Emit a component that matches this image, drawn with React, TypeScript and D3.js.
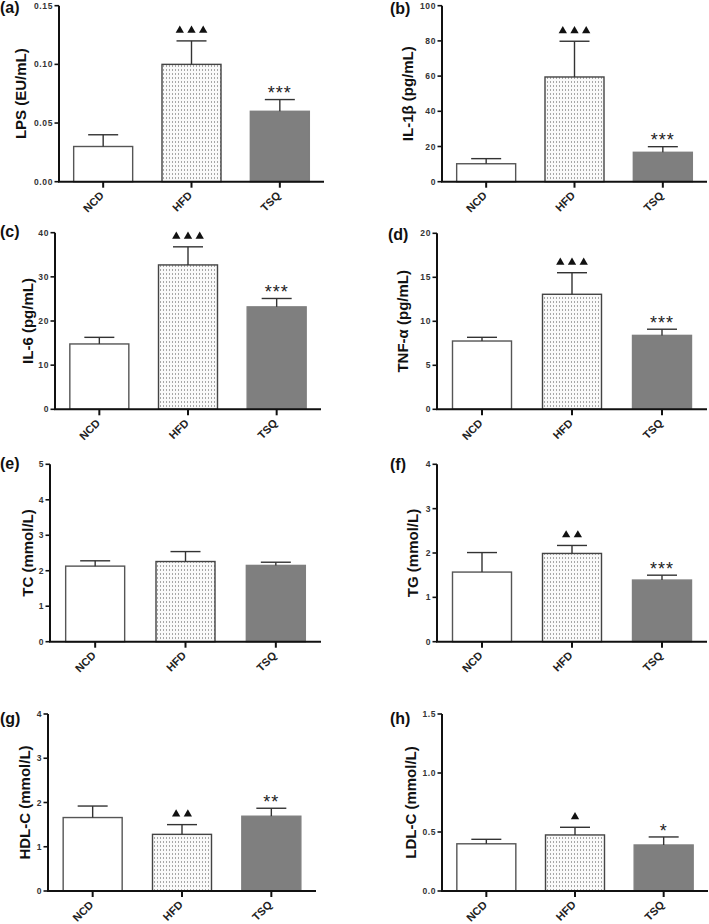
import * as d3 from 'd3'

// groups on the x axis
const groups = ['NCD', 'HFD', 'TSQ']

// mean and upper error (SEM)
const lpsMean = [0.03, 0.1, 0.06]
const lpsSem = [0.01, 0.02, 0.01]
const il1bMean = [10.2, 59.5, 16.7]
const il1bSem = [2.9, 20.3, 3.2]
const il6Mean = [14.8, 32.7, 23.2]
const il6Sem = [1.5, 4.1, 1.9]
const tnfMean = [7.76, 13.07, 8.4]
const tnfSem = [0.42, 2.45, 0.7]
const tcMean = [2.13, 2.26, 2.15]
const tcSem = [0.15, 0.28, 0.09]
const tgMean = [1.57, 1.99, 1.39]
const tgSem = [0.44, 0.18, 0.11]
const hdlMean = [1.66, 1.28, 1.69]
const hdlSem = [0.26, 0.22, 0.18]
const ldlMean = [0.4, 0.475, 0.39]
const ldlSem = [0.038, 0.065, 0.068]

// y tick labels
const lpsTicks = [0, 0.05, 0.1, 0.15]
const il1bTicks = [0, 20, 40, 60, 80, 100]
const il6Ticks = [0, 10, 20, 30, 40]
const tnfTicks = [0, 5, 10, 15, 20]
const tcTicks = [0, 1, 2, 3, 4, 5]
const tgTicks = [0, 1, 2, 3, 4]
const hdlTicks = [0, 1, 2, 3, 4]
const ldlTicks = [0, 0.5, 1.0, 1.5]

// significance marks (▲ vs NCD, * vs HFD)
const lpsSig = ['', '▲▲▲', '***']
const il1bSig = ['', '▲▲▲', '***']
const il6Sig = ['', '▲▲▲', '***']
const tnfSig = ['', '▲▲▲', '***']
const tcSig = ['', '', '']
const tgSig = ['', '▲▲', '***']
const hdlSig = ['', '▲▲', '**']
const ldlSig = ['', '▲', '*']

type PanelSpec = {
  label: string
  title: string
  mean: number[]
  sem: number[]
  ticks: number[]
  fmt: string
  sig: string[]
  x0: number
  x1: number
  yTop: number
  yBot: number
  titleX: number
  labelX: number
  labelY: number
}

const panels: PanelSpec[] = [
  { label: '(a)', title: 'LPS (EU/mL)', mean: lpsMean, sem: lpsSem, ticks: lpsTicks, fmt: '.2f', sig: lpsSig, x0: 59, x1: 324, yTop: 5.7, yBot: 181.7, titleX: 21, labelX: 0, labelY: 12.5 },
  { label: '(b)', title: 'IL-1β (pg/mL)', mean: il1bMean, sem: il1bSem, ticks: il1bTicks, fmt: 'd', sig: il1bSig, x0: 442, x1: 707, yTop: 5.7, yBot: 181.7, titleX: 407.5, labelX: 390, labelY: 13.5 },
  { label: '(c)', title: 'IL-6 (pg/mL)', mean: il6Mean, sem: il6Sem, ticks: il6Ticks, fmt: 'd', sig: il6Sig, x0: 55, x1: 321, yTop: 232.7, yBot: 409.3, titleX: 27.5, labelX: 0, labelY: 237 },
  { label: '(d)', title: 'TNF-α (pg/mL)', mean: tnfMean, sem: tnfSem, ticks: tnfTicks, fmt: 'd', sig: tnfSig, x0: 437, x1: 707, yTop: 233.3, yBot: 409.3, titleX: 402.5, labelX: 388, labelY: 240 },
  { label: '(e)', title: 'TC (mmol/L)', mean: tcMean, sem: tcSem, ticks: tcTicks, fmt: 'd', sig: tcSig, x0: 50, x1: 321, yTop: 464.3, yBot: 641.7, titleX: 27.5, labelX: 0, labelY: 468.7 },
  { label: '(f)', title: 'TG (mmol/L)', mean: tgMean, sem: tgSem, ticks: tgTicks, fmt: 'd', sig: tgSig, x0: 437, x1: 707, yTop: 464.3, yBot: 641.7, titleX: 412.5, labelX: 390, labelY: 470 },
  { label: '(g)', title: 'HDL-C (mmol/L)', mean: hdlMean, sem: hdlSem, ticks: hdlTicks, fmt: 'd', sig: hdlSig, x0: 48, x1: 316, yTop: 714, yBot: 891, titleX: 24, labelX: 0, labelY: 724 },
  { label: '(h)', title: 'LDL-C (mmol/L)', mean: ldlMean, sem: ldlSem, ticks: ldlTicks, fmt: '.1f', sig: ldlSig, x0: 442, x1: 708, yTop: 714, yBot: 891, titleX: 410.7, labelX: 390, labelY: 723.7 },
]

const FONT = 'Arial, "Liberation Sans", Helvetica, sans-serif'
const BAR_W = 59
const CAP_W = 30
const fills = ['#ffffff', 'url(#dots)', '#7f7f7f']
const strokes = ['#555', '#444', '#7f7f7f']
const tri = d3.symbol().type(d3.symbolTriangle).size(30)()

function Panel({ p }: { p: PanelSpec }) {
  const x = d3.scalePoint<string>().domain(groups).range([p.x0, p.x1]).padding(0.5)
  const y = d3
    .scaleLinear()
    .domain([p.ticks[0], p.ticks[p.ticks.length - 1]])
    .range([p.yBot, p.yTop])
  const fmt = d3.format(p.fmt)
  const midY = (p.yTop + p.yBot) / 2

  return (
    <g>
      <text x={p.labelX} y={p.labelY} fontFamily={FONT} fontWeight="bold" fontSize={16} fill="#111">
        {p.label}
      </text>
      <text
        x={p.titleX}
        y={midY}
        transform={`rotate(-90 ${p.titleX} ${midY})`}
        textAnchor="middle"
        dominantBaseline="central"
        fontFamily={FONT}
        fontWeight="bold"
        fontSize={15}
        fill="#111"
      >
        {p.title}
      </text>

      {/* bars + error bars */}
      {groups.map((g, i) => {
        const cx = x(g) as number
        const top = y(p.mean[i])
        const cap = y(p.mean[i] + p.sem[i])
        const sig = p.sig[i]
        const nTri = sig.startsWith('▲') ? sig.length : 0
        return (
          <g key={g}>
            <rect
              x={cx - BAR_W / 2}
              y={top}
              width={BAR_W}
              height={p.yBot - top}
              fill={fills[i]}
              stroke={strokes[i]}
              strokeWidth={1.4}
            />
            <line x1={cx} x2={cx} y1={top} y2={cap} stroke="#333" strokeWidth={1.4} />
            <line x1={cx - CAP_W / 2} x2={cx + CAP_W / 2} y1={cap} y2={cap} stroke="#333" strokeWidth={1.4} />
            {nTri > 0 &&
              d3.range(nTri).map((k) => (
                <path
                  key={k}
                  d={tri as string}
                  transform={`translate(${cx + (k - (nTri - 1) / 2) * 11.7},${cap - 10.5})`}
                  fill="#111"
                />
              ))}
            {sig.startsWith('*') && (
              <text
                x={cx}
                y={cap - 10.5 + 0.57 * 18}
                textAnchor="middle"
                fontFamily={FONT}
                fontSize={18}
                letterSpacing={1}
                fill="#222"
              >
                {sig}
              </text>
            )}
          </g>
        )
      })}

      {/* y axis */}
      <line x1={p.x0} x2={p.x0} y1={p.yTop} y2={p.yBot} stroke="#111" strokeWidth={2} />
      {p.ticks.map((t) => (
        <g key={t}>
          <line x1={p.x0 - 4.5} x2={p.x0} y1={y(t)} y2={y(t)} stroke="#111" strokeWidth={1.6} />
          <text
            x={p.x0 - 6}
            y={y(t)}
            textAnchor="end"
            dominantBaseline="central"
            fontFamily={FONT}
            fontWeight="bold"
            fontSize={8.5}
            letterSpacing={0.6}
            fill="#333"
          >
            {fmt(t)}
          </text>
        </g>
      ))}

      {/* x axis */}
      <line x1={p.x0 - 1} x2={p.x1} y1={p.yBot} y2={p.yBot} stroke="#111" strokeWidth={2} />
      {groups.map((g) => {
        const cx = x(g) as number
        const lx = cx + 1.5
        const ly = p.yBot + 14.5
        return (
          <g key={g}>
            <line x1={cx} x2={cx} y1={p.yBot} y2={p.yBot + 6} stroke="#111" strokeWidth={2} />
            <text
              x={lx}
              y={ly}
              transform={`rotate(-45 ${lx} ${ly})`}
              textAnchor="end"
              fontFamily={FONT}
              fontWeight="bold"
              fontSize={11}
              fill="#222"
            >
              {g}
            </text>
          </g>
        )
      })}
    </g>
  )
}

export default function App() {
  return (
    <svg
      width={709}
      height={924}
      viewBox="0 0 709 924"
      style={{ position: 'absolute', left: 0, top: 0, background: '#fff' }}
    >
      <defs>
        <pattern id="dots" patternUnits="userSpaceOnUse" width={3} height={4}>
          <rect width={3} height={4} fill="#fafafa" />
          <rect x={1} y={1.5} width={1} height={1} fill="#555" />
        </pattern>
      </defs>
      <rect width={709} height={924} fill="#fff" />
      {panels.map((p) => (
        <Panel key={p.label} p={p} />
      ))}
    </svg>
  )
}
